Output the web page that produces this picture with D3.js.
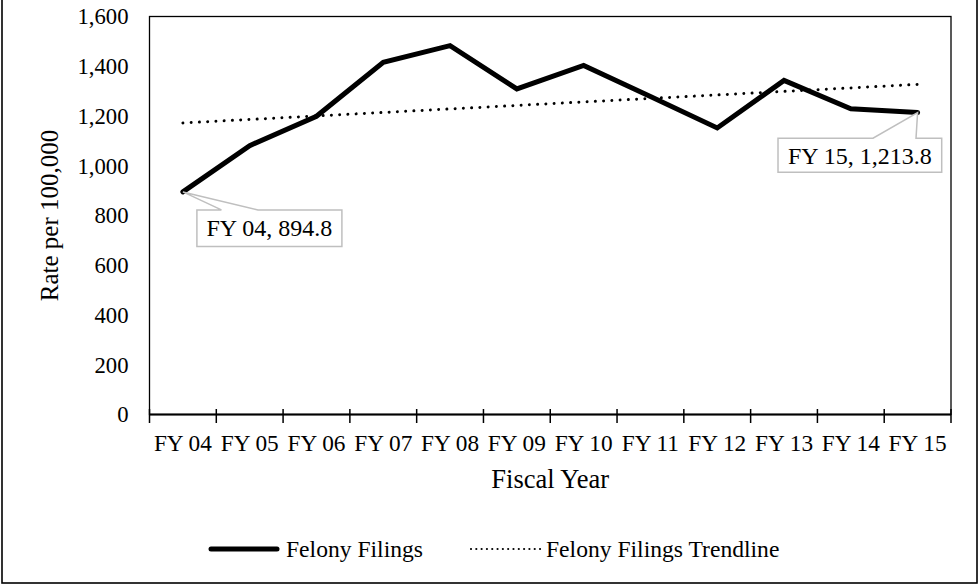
<!DOCTYPE html>
<html>
<head>
<meta charset="utf-8">
<script src="https://cdn.jsdelivr.net/npm/d3@7"></script>
<style>
  html, body { margin: 0; padding: 0; background: #fff; }
  svg { display: block; font-family: "Liberation Serif", "Times New Roman", serif; }
</style>
</head>
<body>
<svg id="chart" width="980" height="585"></svg>
<script>
// Felony filing rates per 100,000, by fiscal year
const categories = ["FY 04", "FY 05", "FY 06", "FY 07", "FY 08", "FY 09",
                    "FY 10", "FY 11", "FY 12", "FY 13", "FY 14", "FY 15"];
const felonyFilings = [894.8, 1081, 1199, 1416, 1483, 1309,
                       1403, 1278, 1152, 1343, 1229, 1213.8];
// Linear trendline, value at the first and last fiscal year
const trendCategories = ["FY 04", "FY 15"];
const trendValues = [1172, 1327];
const yTicks = [0, 200, 400, 600, 800, 1000, 1200, 1400, 1600];
// Callout labels: index into the series
const labelledPoints = [0, 11];

const svg = d3.select("#chart");
const plot = { left: 149.5, right: 951, top: 16.5, bottom: 414.5 };

const x = d3.scaleBand().domain(categories).range([plot.left, plot.right]).padding(0);
const cx = c => x(c) + x.bandwidth() / 2;
const y = d3.scaleLinear().domain([0, 1600]).range([plot.bottom, plot.top]);

// outer frame
svg.append("rect")
  .attr("x", 2).attr("y", -2).attr("width", 975).attr("height", 585)
  .attr("fill", "none").attr("stroke", "#000").attr("stroke-width", 1.6);

// plot area border
svg.append("rect")
  .attr("x", plot.left).attr("y", plot.top)
  .attr("width", plot.right - plot.left).attr("height", plot.bottom - plot.top)
  .attr("fill", "none").attr("stroke", "#000").attr("stroke-width", 1.3);

// y axis labels
const yAxis = svg.append("g")
  .attr("transform", `translate(${plot.left},0)`)
  .call(d3.axisLeft(y).tickValues(yTicks).tickSize(0).tickPadding(21).tickFormat(d3.format(",")));
yAxis.select(".domain").remove();
yAxis.selectAll("text").attr("font-size", 22.7).attr("fill", "#000")
  .attr("font-family", "Liberation Serif, Times New Roman, serif");

// x axis labels
const xAxis = svg.append("g")
  .attr("transform", `translate(0,${plot.bottom})`)
  .call(d3.axisBottom(x).tickSize(0));
xAxis.select(".domain").remove();
xAxis.selectAll("text").attr("font-size", 23.3).attr("fill", "#000")
  .attr("font-family", "Liberation Serif, Times New Roman, serif")
  .attr("dy", null).attr("y", 36.5);

// x axis line with crossing ticks at category boundaries
svg.append("line")
  .attr("x1", plot.left).attr("x2", plot.right)
  .attr("y1", plot.bottom).attr("y2", plot.bottom)
  .attr("stroke", "#000").attr("stroke-width", 2);
const edges = categories.map(c => x(c)).concat([x(categories[categories.length - 1]) + x.bandwidth()]);
svg.append("g").selectAll("line").data(edges).join("line")
  .attr("x1", d => d).attr("x2", d => d)
  .attr("y1", plot.bottom - 5.5).attr("y2", plot.bottom + 8.5)
  .attr("stroke", "#000").attr("stroke-width", 1.5);

// axis titles
svg.append("text")
  .attr("transform", `translate(58,${(plot.top + plot.bottom) / 2}) rotate(-90)`)
  .attr("text-anchor", "middle").attr("font-size", 25).attr("fill", "#000")
  .text("Rate per 100,000");
svg.append("text")
  .attr("x", (plot.left + plot.right) / 2).attr("y", 487.5)
  .attr("text-anchor", "middle").attr("font-size", 26.5).attr("fill", "#000")
  .text("Fiscal Year");

// trendline
svg.append("path")
  .datum(trendCategories.map((c, i) => [cx(c), y(trendValues[i])]))
  .attr("d", d3.line())
  .attr("fill", "none").attr("stroke", "#000").attr("stroke-width", 3)
  .attr("stroke-linecap", "round").attr("stroke-dasharray", "0.01 8.25");

// felony filings series
svg.append("path")
  .datum(categories.map((c, i) => [cx(c), y(felonyFilings[i])]))
  .attr("d", d3.line())
  .attr("fill", "none").attr("stroke", "#000").attr("stroke-width", 5)
  .attr("stroke-linejoin", "miter").attr("stroke-linecap", "round");

// callout labels
const fmt = d3.format(",.1f");
const callouts = {
  0:  { dx: 14, dy: 18, w: 145, h: 36.5, b0: 38.5, b1: 75, base: 26.5 },
  11: { dx: -139.6, dy: 25.7, w: 163.7, h: 34, b0: -44.6, b1: -1.6, base: 26 }
};
labelledPoints.forEach(i => {
  const px = cx(categories[i]), py = y(felonyFilings[i]);
  const o = callouts[i];
  const L = px + o.dx, T = py + o.dy, R = L + o.w, B = T + o.h;
  const p = d3.path();
  p.moveTo(L, T);
  p.lineTo(px + o.b0, T);
  p.lineTo(px, py);
  p.lineTo(px + o.b1, T);
  p.lineTo(R, T);
  p.lineTo(R, B);
  p.lineTo(L, B);
  p.closePath();
  svg.append("path").attr("d", p.toString())
    .attr("fill", "#fff").attr("stroke", "#bfbfbf").attr("stroke-width", 1.5)
    .attr("stroke-linejoin", "miter");
  svg.append("text")
    .attr("x", L + o.w / 2).attr("y", T + o.base)
    .attr("text-anchor", "middle").attr("font-size", 24).attr("fill", "#000")
    .text(`${categories[i]}, ${fmt(felonyFilings[i])}`);
});

// legend
const legendY = 549;
svg.append("line")
  .attr("x1", 211).attr("x2", 277).attr("y1", legendY).attr("y2", legendY)
  .attr("stroke", "#000").attr("stroke-width", 5).attr("stroke-linecap", "round");
svg.append("text").attr("x", 286).attr("y", 556.7)
  .attr("font-size", 23.6).attr("fill", "#000").text("Felony Filings");
svg.append("line")
  .attr("x1", 471).attr("x2", 541).attr("y1", legendY).attr("y2", legendY)
  .attr("stroke", "#000").attr("stroke-width", 2.2).attr("stroke-linecap", "round")
  .attr("stroke-dasharray", "0.01 5.3");
svg.append("text").attr("x", 546).attr("y", 556.7)
  .attr("font-size", 23.6).attr("fill", "#000").text("Felony Filings Trendline");
</script>
</body>
</html>
